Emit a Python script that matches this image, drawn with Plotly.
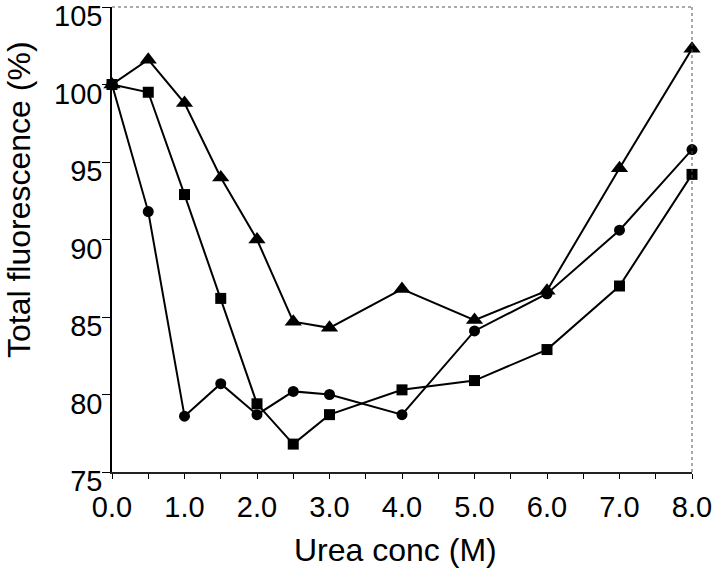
import plotly.graph_objects as go

urea_conc = [0.0, 0.5, 1.0, 1.5, 2.0, 2.5, 3.0, 4.0, 5.0, 6.0, 7.0, 8.0]
triangle_series = [100.0, 101.6, 98.8, 94.0, 90.0, 84.7, 84.3, 86.8, 84.8, 86.7, 94.6, 102.3]
circle_series = [100.0, 91.8, 78.6, 80.7, 78.7, 80.2, 80.0, 78.7, 84.1, 86.5, 90.6, 95.8]
square_series = [100.0, 99.5, 92.9, 86.2, 79.4, 76.8, 78.7, 80.3, 80.9, 82.9, 87.0, 94.2]

x_tick_vals = [0, 1, 2, 3, 4, 5, 6, 7, 8]
x_tick_text = ["0.0", "1.0", "2.0", "3.0", "4.0", "5.0", "6.0", "7.0", "8.0"]
y_tick_vals = [75, 80, 85, 90, 95, 100, 105]

FONT = "Liberation Sans, Arial, sans-serif"

W, H = 720, 575
L, R, T, B = 112, 28, 7, 103
PW, PH = W - L - R, H - T - B

fig = go.Figure()
series = [
    (triangle_series, "triangle-up", 15),
    (circle_series, "circle", 11),
    (square_series, "square", 11),
]
for ys, sym, size in series:
    fig.add_trace(go.Scatter(
        x=urea_conc, y=ys, mode="lines+markers",
        line=dict(color="black", width=2),
        marker=dict(symbol=sym, size=size, color="black"),
        cliponaxis=False, showlegend=False,
    ))

fig.update_layout(
    width=W, height=H,
    margin=dict(l=L, r=R, t=T, b=B, autoexpand=False),
    paper_bgcolor="white", plot_bgcolor="white",
    font=dict(family=FONT, size=29, color="black"),
    xaxis=dict(
        range=[0, 8], tickvals=x_tick_vals, ticktext=x_tick_text,
        ticks="outside", ticklen=5, tickwidth=1, tickcolor="black",
        minor=dict(dtick=0.5, tick0=0, ticks="outside", ticklen=5, tickcolor="black"),
        showline=True, linecolor="#222222", linewidth=1.5,
        showgrid=False, zeroline=False, automargin=False,
        tickfont=dict(size=29),
        ticklabelstandoff=3,
    ),
    yaxis=dict(
        range=[75, 105], tickvals=y_tick_vals,
        ticks="outside", ticklen=8, tickwidth=1, tickcolor="black",
        showline=True, linecolor="black", linewidth=1.5,
        showgrid=False, zeroline=False, automargin=False,
        tickfont=dict(size=29),
        ticklabelshift=9, ticklabelstandoff=-6, ticklabeloverflow="allow",
    ),
)

fig.add_annotation(text="Total fluorescence (%)", textangle=-90,
                   xref="paper", yref="paper",
                   x=(19 - L) / PW, y=(T + PH - 200) / PH,
                   xanchor="center", yanchor="middle", showarrow=False,
                   font=dict(size=32, family=FONT, color="black"))
fig.add_annotation(text="Urea conc (M)",
                   xref="paper", yref="paper",
                   x=(395 - L) / PW, y=(T + PH - 550) / PH,
                   xanchor="center", yanchor="middle", showarrow=False,
                   font=dict(size=32, family=FONT, color="black"))

fig.add_shape(type="line", xref="paper", yref="paper", x0=0, x1=1, y0=1, y1=1,
              line=dict(color="#555555", width=1, dash="dot"))
fig.add_shape(type="line", xref="paper", yref="paper", x0=1, x1=1, y0=0, y1=1,
              line=dict(color="#555555", width=1, dash="dot"))

# remove the browser's default 8px body margin so the figure sits at the window corner
fig.write_html("out.html", config={"displayModeBar": False},
               post_script="document.body.style.margin='0';")
